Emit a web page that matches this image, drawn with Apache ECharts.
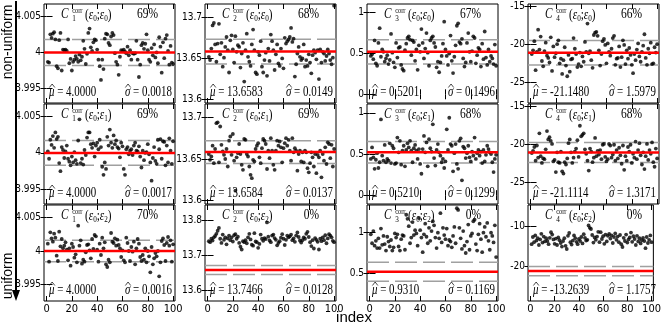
<!DOCTYPE html>
<html>
<head>
<meta charset="utf-8">
<script src="https://cdn.jsdelivr.net/npm/echarts@6/dist/echarts.min.js"></script>
<style>
html, body { margin: 0; padding: 0; background: #fff; }
#chart { width: 664px; height: 326px; }
</style>
</head>
<body>
<div id="chart"></div>
<script>
// toy index on the x axis
var index = [];
for (var i = 1; i <= 100; i++) index.push(i);
var xTicks = [0, 20, 40, 60, 80, 100];

// C1 column
var c1Eps0 = [3.9987, 3.9986, 4.0025, 4.0020, 4.0026, 4.0028, 4.0018, 3.9981, 3.9978, 4.0017,
  4.0027, 3.9975, 4.0004, 4.0003, 4.0004, 4.0002, 4.0018, 3.9985, 3.9991, 3.9975,
  3.9987, 3.9990, 3.9995, 3.9991, 3.9987, 3.9997, 3.9989, 3.9994, 4.0016, 4.0005,
  3.9984, 3.9998, 4.0027, 4.0033, 4.0007, 4.0002, 4.0014, 4.0018, 4.0017, 4.0004,
  3.9990, 3.9981, 3.9962, 3.9990, 3.9977, 4.0019, 4.0026, 4.0025, 4.0013, 4.0010,
  4.0022, 4.0027, 4.0024, 3.9999, 3.9987, 3.9983, 3.9969, 3.9994, 4.0003, 4.0002,
  4.0004, 4.0001, 3.9999, 4.0008, 3.9996, 4.0003, 3.9990, 3.9999, 3.9998, 3.9999,
  4.0016, 3.9990, 3.9966, 3.9983, 4.0010, 4.0013, 4.0005, 4.0012, 4.0025, 4.0003,
  3.9990, 3.9987, 4.0006, 3.9996, 4.0011, 3.9993, 4.0000, 3.9985, 4.0021, 4.0008,
  3.9972, 4.0014, 3.9992, 4.0019, 4.0024, 4.0002, 3.9983, 4.0009, 3.9986, 3.9984];
var c1Eps1 = [4.0002, 3.9992, 4.0018, 4.0011, 4.0023, 4.0007, 4.0028, 4.0019, 4.0022, 3.9986,
  3.9975, 4.0008, 4.0004, 3.9993, 4.0002, 4.0010, 3.9992, 3.9988, 3.9983, 3.9995,
  3.9987, 4.0001, 3.9990, 3.9985, 4.0017, 4.0046, 3.9986, 3.9992, 3.9984, 4.0004,
  3.9997, 4.0021, 4.0028, 4.0028, 4.0012, 4.0007, 4.0013, 3.9995, 4.0010, 4.0014,
  4.0005, 4.0018, 4.0008, 3.9981, 3.9970, 3.9987, 3.9978, 4.0022, 4.0010, 4.0032,
  4.0014, 4.0007, 4.0024, 4.0012, 4.0017, 4.0008, 4.0006, 3.9994, 4.0014, 4.0009,
  3.9978, 3.9970, 4.0005, 4.0008, 3.9998, 4.0003, 4.0005, 3.9997, 4.0010, 4.0014,
  4.0003, 4.0002, 4.0009, 3.9995, 3.9980, 4.0003, 3.9990, 4.0000, 4.0001, 4.0012,
  3.9998, 3.9987, 3.9962, 3.9993, 4.0008, 3.9989, 3.9985, 4.0018, 4.0005, 4.0019,
  3.9992, 4.0016, 4.0015, 3.9983, 4.0010, 3.9987, 4.0020, 4.0003, 3.9985, 4.0016];
var c1Eps2 = [4.0011, 3.9984, 4.0028, 4.0019, 4.0014, 4.0026, 4.0020, 3.9993, 3.9985, 4.0029,
  4.0007, 4.0018, 4.0004, 4.0008, 4.0013, 4.0002, 3.9986, 4.0004, 3.9978, 4.0011,
  4.0006, 3.9990, 3.9995, 3.9983, 4.0038, 4.0008, 4.0016, 3.9981, 3.9987, 3.9984,
  3.9998, 4.0009, 4.0010, 4.0001, 3.9989, 4.0018, 4.0003, 4.0024, 4.0022, 4.0002,
  3.9984, 4.0011, 3.9994, 4.0020, 4.0004, 4.0013, 3.9980, 3.9976, 3.9987, 3.9983,
  4.0027, 4.0014, 4.0012, 4.0019, 4.0008, 4.0017, 4.0009, 4.0004, 3.9991, 4.0001,
  3.9986, 3.9983, 4.0020, 4.0012, 4.0000, 3.9985, 4.0006, 3.9999, 4.0014, 3.9980,
  4.0004, 4.0018, 4.0011, 3.9991, 3.9985, 3.9994, 3.9987, 4.0004, 3.9983, 4.0000,
  3.9992, 3.9968, 4.0006, 3.9980, 3.9989, 3.9997, 3.9992, 4.0000, 3.9962, 3.9983,
  4.0015, 4.0019, 4.0009, 3.9985, 4.0012, 4.0021, 4.0008, 4.0016, 3.9984, 4.0010];

// C2 column
var c2Eps0 = [13.652, 13.648, 13.662, 13.690, 13.693, 13.667, 13.646, 13.668, 13.692, 13.655,
  13.669, 13.640, 13.651, 13.664, 13.676, 13.660, 13.633, 13.672, 13.678, 13.661,
  13.645, 13.677, 13.658, 13.666, 13.664, 13.639, 13.656, 13.669, 13.622, 13.660,
  13.680, 13.652, 13.646, 13.641, 13.667, 13.685, 13.660, 13.633, 13.631, 13.658,
  13.654, 13.671, 13.640, 13.633, 13.648, 13.657, 13.629, 13.662, 13.647, 13.679,
  13.671, 13.660, 13.636, 13.655, 13.667, 13.644, 13.641, 13.662, 13.650, 13.638,
  13.675, 13.668, 13.671, 13.673, 13.676, 13.687, 13.670, 13.674, 13.628, 13.643,
  13.656, 13.664, 13.652, 13.648, 13.650, 13.667, 13.640, 13.648, 13.641, 13.655,
  13.645, 13.632, 13.654, 13.660, 13.657, 13.649, 13.660, 13.625, 13.661, 13.645,
  13.658, 13.656, 13.647, 13.653, 13.661, 13.656, 13.648, 13.643, 13.651, 13.714];
var c2Eps1 = [13.656, 13.649, 13.653, 13.666, 13.645, 13.662, 13.693, 13.694, 13.646, 13.689,
  13.667, 13.659, 13.655, 13.650, 13.662, 13.641, 13.672, 13.677, 13.655, 13.680,
  13.648, 13.612, 13.652, 13.657, 13.668, 13.656, 13.643, 13.637, 13.674, 13.673,
  13.656, 13.653, 13.641, 13.631, 13.627, 13.649, 13.647, 13.662, 13.666, 13.669,
  13.652, 13.645, 13.663, 13.674, 13.672, 13.668, 13.638, 13.660, 13.651, 13.675,
  13.660, 13.643, 13.637, 13.660, 13.672, 13.666, 13.671, 13.664, 13.646, 13.663,
  13.669, 13.675, 13.666, 13.673, 13.660, 13.648, 13.675, 13.658, 13.663, 13.660,
  13.636, 13.656, 13.660, 13.647, 13.658, 13.646, 13.660, 13.658, 13.639, 13.634,
  13.645, 13.658, 13.652, 13.641, 13.656, 13.633, 13.655, 13.652, 13.660, 13.628,
  13.656, 13.648, 13.664, 13.644, 13.670, 13.668, 13.651, 13.667, 13.641, 13.662];
var c2Eps2 = [13.741, 13.738, 13.748, 13.743, 13.752, 13.756, 13.762, 13.771, 13.779, 13.748,
  13.736, 13.760, 13.745, 13.752, 13.732, 13.749, 13.757, 13.744, 13.752, 13.740,
  13.758, 13.761, 13.748, 13.754, 13.736, 13.725, 13.717, 13.741, 13.738, 13.744,
  13.735, 13.752, 13.762, 13.746, 13.731, 13.728, 13.764, 13.740, 13.738, 13.722,
  13.733, 13.760, 13.748, 13.742, 13.750, 13.747, 13.795, 13.754, 13.743, 13.738,
  13.757, 13.760, 13.750, 13.745, 13.729, 13.736, 13.741, 13.751, 13.761, 13.748,
  13.730, 13.745, 13.757, 13.752, 13.755, 13.760, 13.744, 13.749, 13.739, 13.757,
  13.766, 13.753, 13.743, 13.737, 13.744, 13.752, 13.748, 13.762, 13.768, 13.753,
  13.738, 13.727, 13.744, 13.720, 13.750, 13.745, 13.739, 13.717, 13.748, 13.741,
  13.752, 13.744, 13.758, 13.735, 13.749, 13.761, 13.757, 13.752, 13.742, 13.738];

// C3 column
var c3Eps0 = [0.47, 0.49, 0.43, 0.66, 0.38, 0.35, 0.63, 0.81, 0.46, 0.55,
  0.52, 0.40, 0.44, 0.48, 0.37, 0.42, 0.74, 0.51, 0.39, 0.33,
  0.63, 0.45, 0.57, 0.58, 0.36, 0.31, 0.29, 0.54, 0.62, 0.69,
  0.71, 0.67, 0.48, 0.66, 0.64, 0.41, 0.55, 0.30, 0.60, 0.52,
  0.80, 0.63, 0.44, 0.56, 0.75, 0.51, 0.35, 0.66, 0.69, 0.71,
  0.63, 0.58, 0.33, 0.40, 0.27, 0.39, 0.47, 0.62, 0.89, 0.55,
  0.47, 0.36, 0.50, 0.72, 0.41, 0.26, 0.46, 0.60, 0.84, 0.87,
  0.64, 0.62, 0.68, 0.44, 0.34, 0.39, 0.63, 0.75, 0.52, 0.40,
  0.53, 0.71, 0.69, 0.38, 0.48, 0.57, 0.55, 0.34, 0.62, 0.43,
  0.77, 0.45, 0.36, 0.55, 0.40, 0.47, 0.44, 0.37, 0.61, 0.35];
var c3Eps1 = [0.44, 0.58, 0.46, 0.32, 0.43, 0.51, 0.33, 0.40, 0.92, 0.48,
  0.42, 0.61, 0.40, 0.44, 0.42, 0.63, 0.39, 0.60, 0.57, 0.38,
  0.39, 0.70, 0.52, 0.66, 0.37, 0.54, 0.60, 0.35, 0.55, 0.63,
  0.58, 0.66, 0.54, 0.40, 0.57, 0.61, 0.54, 0.44, 0.56, 0.38,
  0.26, 0.56, 0.72, 0.52, 0.64, 0.35, 0.68, 0.57, 0.53, 0.86,
  0.45, 0.36, 0.55, 0.62, 0.52, 0.48, 0.40, 0.44, 0.33, 0.41,
  0.80, 0.55, 0.94, 0.62, 0.60, 0.29, 0.51, 0.62, 0.38, 0.32,
  0.66, 0.69, 0.18, 0.59, 0.57, 0.45, 0.51, 0.60, 0.46, 0.41,
  0.53, 0.48, 0.70, 0.44, 0.51, 0.55, 0.48, 0.53, 0.39, 0.55,
  0.41, 0.49, 0.60, 0.56, 0.52, 0.50, 0.40, 0.28, 0.44, 0.49];
var c3Eps2 = [0.98, 0.87, 1.02, 0.84, 0.90, 0.81, 0.93, 0.81, 1.05, 0.85,
  0.96, 0.86, 0.78, 0.95, 0.89, 0.83, 0.91, 0.78, 0.82, 0.99,
  0.94, 0.98, 0.83, 0.78, 0.92, 0.97, 0.96, 0.79, 1.22, 1.17,
  1.08, 0.87, 0.94, 1.13, 0.97, 1.03, 0.99, 0.84, 1.18, 1.03,
  0.94, 0.76, 0.98, 1.11, 0.95, 0.87, 1.06, 0.90, 1.02, 1.14,
  1.09, 0.94, 0.81, 1.00, 0.93, 1.24, 0.88, 1.06, 0.97, 0.92,
  1.05, 0.84, 0.91, 0.89, 0.82, 0.96, 1.07, 0.87, 1.30, 1.28,
  1.06, 0.93, 0.80, 1.02, 0.84, 0.75, 0.89, 1.10, 0.79, 0.96,
  0.99, 1.14, 1.16, 0.86, 0.78, 0.98, 1.11, 0.92, 0.76, 1.00,
  1.07, 0.95, 1.12, 0.90, 0.79, 1.00, 0.96, 0.88, 1.09, 0.70];

// C4 column
var c4Eps0 = [-21.3, -20.8, -19.6, -23.4, -21.0, -18.1, -20.7, -19.0, -22.2, -22.9,
  -20.9, -19.8, -21.5, -21.8, -22.4, -19.1, -23.5, -20.3, -21.7, -21.2,
  -20.0, -19.5, -22.5, -21.9, -23.9, -22.1, -20.4, -22.8, -24.2, -21.4,
  -23.6, -22.0, -21.9, -19.2, -20.6, -21.3, -23.0, -22.6, -21.1, -22.9,
  -21.6, -22.3, -19.7, -21.0, -17.3, -21.2, -20.9, -22.1, -23.1, -18.8,
  -18.5, -18.4, -18.9, -20.8, -22.8, -21.3, -19.6, -19.3, -20.1, -22.5,
  -19.9, -21.0, -21.5, -20.6, -19.2, -18.9, -22.7, -21.9, -21.8, -20.3,
  -23.0, -21.7, -19.5, -20.1, -22.6, -20.8, -21.9, -20.5, -21.4, -22.7,
  -23.8, -21.3, -22.1, -20.7, -19.9, -21.6, -22.3, -21.0, -20.2, -18.7,
  -21.8, -22.7, -20.6, -21.2, -19.8, -22.6, -22.5, -20.4, -21.1, -20.0];
var c4Eps1 = [-21.2, -20.9, -20.4, -22.2, -20.2, -21.8, -18.6, -21.6, -22.5, -21.9,
  -22.0, -20.7, -18.3, -19.4, -19.1, -19.6, -20.0, -22.3, -22.1, -23.7,
  -21.1, -22.4, -22.5, -21.0, -23.6, -23.9, -22.4, -22.7, -21.9, -19.9,
  -19.4, -21.1, -22.5, -21.8, -21.0, -20.6, -19.5, -21.7, -17.6, -19.0,
  -18.8, -18.6, -20.7, -21.3, -22.2, -23.5, -20.6, -21.0, -22.4, -21.8,
  -19.2, -21.6, -20.9, -21.4, -20.8, -22.0, -20.1, -20.0, -21.7, -22.3,
  -22.0, -20.0, -20.2, -21.8, -21.4, -20.1, -22.2, -20.8, -21.9, -20.5,
  -21.5, -22.6, -20.2, -23.4, -21.6, -22.2, -20.4, -21.0, -20.1, -22.5,
  -21.3, -21.8, -19.7, -22.0, -20.8, -19.9, -21.5, -22.7, -21.1, -23.3,
  -21.6, -20.0, -22.1, -20.8, -21.3, -19.8, -22.4, -23.0, -20.6, -21.9];
var c4Eps2 = [-14.4, -12.6, -13.9, -12.2, -13.5, -12.9, -14.6, -13.2, -11.8, -14.0,
  -12.5, -13.7, -12.9, -13.6, -14.4, -12.8, -11.4, -12.0, -13.2, -14.3,
  -13.0, -14.6, -12.7, -13.4, -14.1, -15.0, -13.6, -12.9, -14.8, -15.6,
  -12.3, -11.6, -13.9, -14.5, -13.5, -12.2, -12.9, -13.8, -14.4, -13.1,
  -13.6, -12.6, -14.2, -11.9, -12.8, -13.5, -13.3, -9.7, -10.3, -10.6,
  -12.1, -14.0, -12.7, -13.3, -12.5, -11.3, -13.9, -11.4, -13.1, -12.4,
  -14.3, -12.0, -13.7, -12.3, -11.8, -13.0, -12.2, -14.1, -12.6, -11.7,
  -13.3, -12.5, -13.9, -12.1, -14.4, -15.1, -12.8, -13.6, -12.0, -14.0,
  -13.2, -12.7, -11.5, -13.8, -12.4, -13.1, -14.6, -12.3, -13.7, -12.9,
  -14.2, -13.4, -12.8, -13.6, -15.4, -12.6, -14.1, -13.3, -12.2, -13.9];

// reference (true) value of each coefficient: red line
var trueVal = [4.0000, 13.6583, 0.5205, -21.13];
// fitted mean / sigma printed in each panel (rows: eps0, eps1, eps2)
var muText = [['4.0000', '13.6583', '0.5201', '-21.1480'],
              ['4.0000', '13.6584', '0.5210', '-21.1114'],
              ['4.0000', '13.7466', '0.9310', '-13.2639']];
var sigmaText = [['0.0018', '0.0149', '0.1496', '1.5979'],
                 ['0.0017', '0.0137', '0.1299', '1.3171'],
                 ['0.0016', '0.0128', '0.1169', '1.1757']];
var coverText = [['69%', '68%', '67%', '66%'],
                 ['69%', '69%', '68%', '68%'],
                 ['70%', '0%', '0%', '0%']];
var yTickVals = [[[3.995, 4, 4.005], [13.6, 13.65, 13.7], [0, 0.5, 1], [-25, -20, -15]],
                 [[3.995, 4, 4.005], [13.6, 13.65, 13.7], [0, 0.5, 1], [-25, -20, -15]],
                 [[3.995, 4, 4.005], [13.6, 13.7, 13.8], [0.5, 1], [-20, -10]]];

var panels = [[c1Eps0, c2Eps0, c3Eps0, c4Eps0],
              [c1Eps1, c2Eps1, c3Eps1, c4Eps1],
              [c1Eps2, c2Eps2, c3Eps2, c4Eps2]];

// axis ranges of each frame
var xMin = -2, xMax = 101.5;
var yMinArr = [[3.9930, 13.596, -0.107, -27.7], [3.9930, 13.596, -0.107, -27.9], [3.9925, 13.569, 0.16, -28.6]];
var yMaxArr = [[4.0067, 13.716, 1.107, -14.74], [4.0067, 13.716, 1.107, -14.74], [4.0069, 13.845, 1.34, -4.6]];

// layout
var colLeft = [44, 205, 367, 528], colW = 131;
var rowTop = [4, 104, 205], rowH = [99, 100, 96];

var serif = '"Liberation Serif", "DejaVu Serif", serif';
var sans = '"Liberation Sans", Arial, sans-serif';
var tickFont = '"Liberation Sans Narrow", "DejaVu Sans Condensed", "Liberation Sans", sans-serif';
var squeeze = 0.78;

var measureCtx = document.createElement('canvas').getContext('2d');
function textWidth(str, font) {
  measureCtx.font = font;
  return measureCtx.measureText(str).width;
}

// hatted greek letter followed by "= value"
function hatted(letter, rest, x, y, alignRight) {
  var fL = 'italic 14px ' + serif, fR = '14px ' + serif;
  var wL = textWidth(letter, fL), wR = textWidth(rest, fR);
  var x0 = alignRight ? x - squeeze * (wL + wR) : x;
  return {
    type: 'group', x: x0, y: y, scaleX: squeeze,
    children: [
      { type: 'text', x: 0, y: 0, style: { text: letter, font: fL, fill: '#000', textVerticalAlign: 'middle' } },
      { type: 'polyline', shape: { points: [[0.5, -4.5], [wL / 2 + 0.5, -8], [wL + 0.5, -4.5]] }, style: { stroke: '#000', lineWidth: 0.8, fill: null } },
      { type: 'text', x: wL, y: 0, style: { text: rest, font: fR, fill: '#000', textVerticalAlign: 'middle' } }
    ]
  };
}

var grids = [], xMain = [], xTop = [], yMain = [], yRight = [], series = [], graphics = [];

for (var r = 0; r < 3; r++) {
  for (var c = 0; c < 4; c++) {
    var k = r * 4 + c;
    grids.push({
      left: colLeft[c], top: rowTop[r], width: colW, height: rowH[r],
      show: true, borderColor: '#000', borderWidth: 1, backgroundColor: 'transparent'
    });
    xMain.push({
      gridIndex: k, type: 'value', min: xMin, max: xMax,
      axisLine: { show: false }, splitLine: { show: false },
      axisTick: { inside: true, length: 5, customValues: xTicks, lineStyle: { color: '#000' } },
      axisLabel: { show: r === 2, customValues: xTicks, color: '#000', fontSize: 11, fontFamily: tickFont, margin: 3 }
    });
    xTop.push({
      gridIndex: k, type: 'value', position: 'top', min: xMin, max: xMax,
      axisLine: { show: false }, splitLine: { show: false },
      axisTick: { inside: true, length: 5, customValues: xTicks, lineStyle: { color: '#000' } },
      axisLabel: { show: false }
    });
    yMain.push({
      gridIndex: k, type: 'value', min: yMinArr[r][c], max: yMaxArr[r][c],
      axisLine: { show: false }, splitLine: { show: false },
      axisTick: { inside: true, length: 6, customValues: yTickVals[r][c], lineStyle: { color: '#000' } },
      axisLabel: { customValues: yTickVals[r][c], color: '#000', fontSize: 10, fontFamily: tickFont, margin: 3 }
    });
    yRight.push({
      gridIndex: k, type: 'value', position: 'right', min: yMinArr[r][c], max: yMaxArr[r][c],
      axisLine: { show: false }, splitLine: { show: false },
      axisTick: { inside: true, length: 6, customValues: yTickVals[r][c], lineStyle: { color: '#000' } },
      axisLabel: { show: false }
    });

    var t = trueVal[c], s = parseFloat(sigmaText[r][c]);
    // +/- sigma band (grey dashed) and the reference value (red)
    [t - s, t + s].forEach(function (v) {
      series.push({
        type: 'line', xAxisIndex: k, yAxisIndex: k, z: 1, silent: true,
        data: [[xMin, v], [xMax, v]], showSymbol: false,
        lineStyle: { color: '#a0a0a0', type: [22, 6], width: 1.5 }
      });
    });
    var pts = [];
    for (var j = 0; j < index.length; j++) pts.push([index[j], panels[r][c][j]]);
    series.push({
      type: 'scatter', xAxisIndex: k, yAxisIndex: k, z: 2, silent: true,
      data: pts, symbolSize: 3.8, itemStyle: { color: '#000' }
    });
    series.push({
      type: 'line', xAxisIndex: k, yAxisIndex: k, z: 3, silent: true,
      data: [[xMin, t], [xMax, t]], showSymbol: false,
      lineStyle: { color: '#ff0000', width: 2.5 }
    });

    // panel texts
    var L = colLeft[c], T = rowTop[r], R = colLeft[c] + colW, B = rowTop[r] + rowH[r];
    graphics.push({
      type: 'group', x: L + 17, y: T + 10, scaleX: 0.8,
      children: [
        { type: 'text', x: 0, y: 0, style: { text: 'C', font: 'italic 14px ' + serif, fill: '#000', textVerticalAlign: 'middle' } },
        { type: 'text', x: 14, y: -3, style: { text: 'corr', font: '8px ' + serif, fill: '#000', textVerticalAlign: 'middle' } },
        { type: 'text', x: 14, y: 5, style: { text: String(c + 1), font: '9px ' + serif, fill: '#000', textVerticalAlign: 'middle' } },
        {
          type: 'text', x: 30, y: 1,
          style: {
            text: '{t|(}{e|ε}{n|0}{t|;}{e|ε}{n|' + r + '}{t|)}',
            textVerticalAlign: 'middle',
            rich: {
              t: { font: '14px ' + serif, fill: '#000', lineHeight: 17 },
              e: { font: 'italic 14px ' + serif, fill: '#000', lineHeight: 17 },
              n: { font: '9px ' + serif, fill: '#000', lineHeight: 17, verticalAlign: 'bottom' }
            }
          }
        }
      ]
    });
    graphics.push({
      type: 'group', x: R - 17, y: T + 10, scaleX: 0.82,
      children: [{ type: 'text', x: 0, y: 0, style: { text: coverText[r][c], font: '14px ' + serif, fill: '#000', textAlign: 'right', textVerticalAlign: 'middle' } }]
    });
    graphics.push(hatted('μ', ' = ' + muText[r][c], L + 5, B - 11, false));
    graphics.push(hatted('σ', ' = ' + sigmaText[r][c], R - 3, B - 11, true));
  }
}

// side labels and arrow
graphics.push({ type: 'text', x: 8, y: 42, rotation: Math.PI / 2, style: { text: 'non-uniform', font: '14px ' + sans, fill: '#000', textAlign: 'center', textVerticalAlign: 'middle' } });
graphics.push({ type: 'text', x: 8, y: 276, rotation: Math.PI / 2, style: { text: 'uniform', font: '14px ' + sans, fill: '#000', textAlign: 'center', textVerticalAlign: 'middle' } });
graphics.push({ type: 'line', shape: { x1: 16, y1: 1, x2: 16, y2: 292 }, style: { stroke: '#000', lineWidth: 2 } });
graphics.push({ type: 'polygon', shape: { points: [[12, 290], [20, 290], [16, 301]] }, style: { fill: '#000' } });
graphics.push({ type: 'text', x: 354, y: 318, style: { text: 'index', font: '15px ' + sans, fill: '#000', textAlign: 'center', textVerticalAlign: 'middle' } });

var chart = echarts.init(document.getElementById('chart'));
chart.setOption({
  animation: false,
  grid: grids,
  xAxis: xMain.concat(xTop),
  yAxis: yMain.concat(yRight),
  series: series,
  graphic: graphics
});
</script>
</body>
</html>
